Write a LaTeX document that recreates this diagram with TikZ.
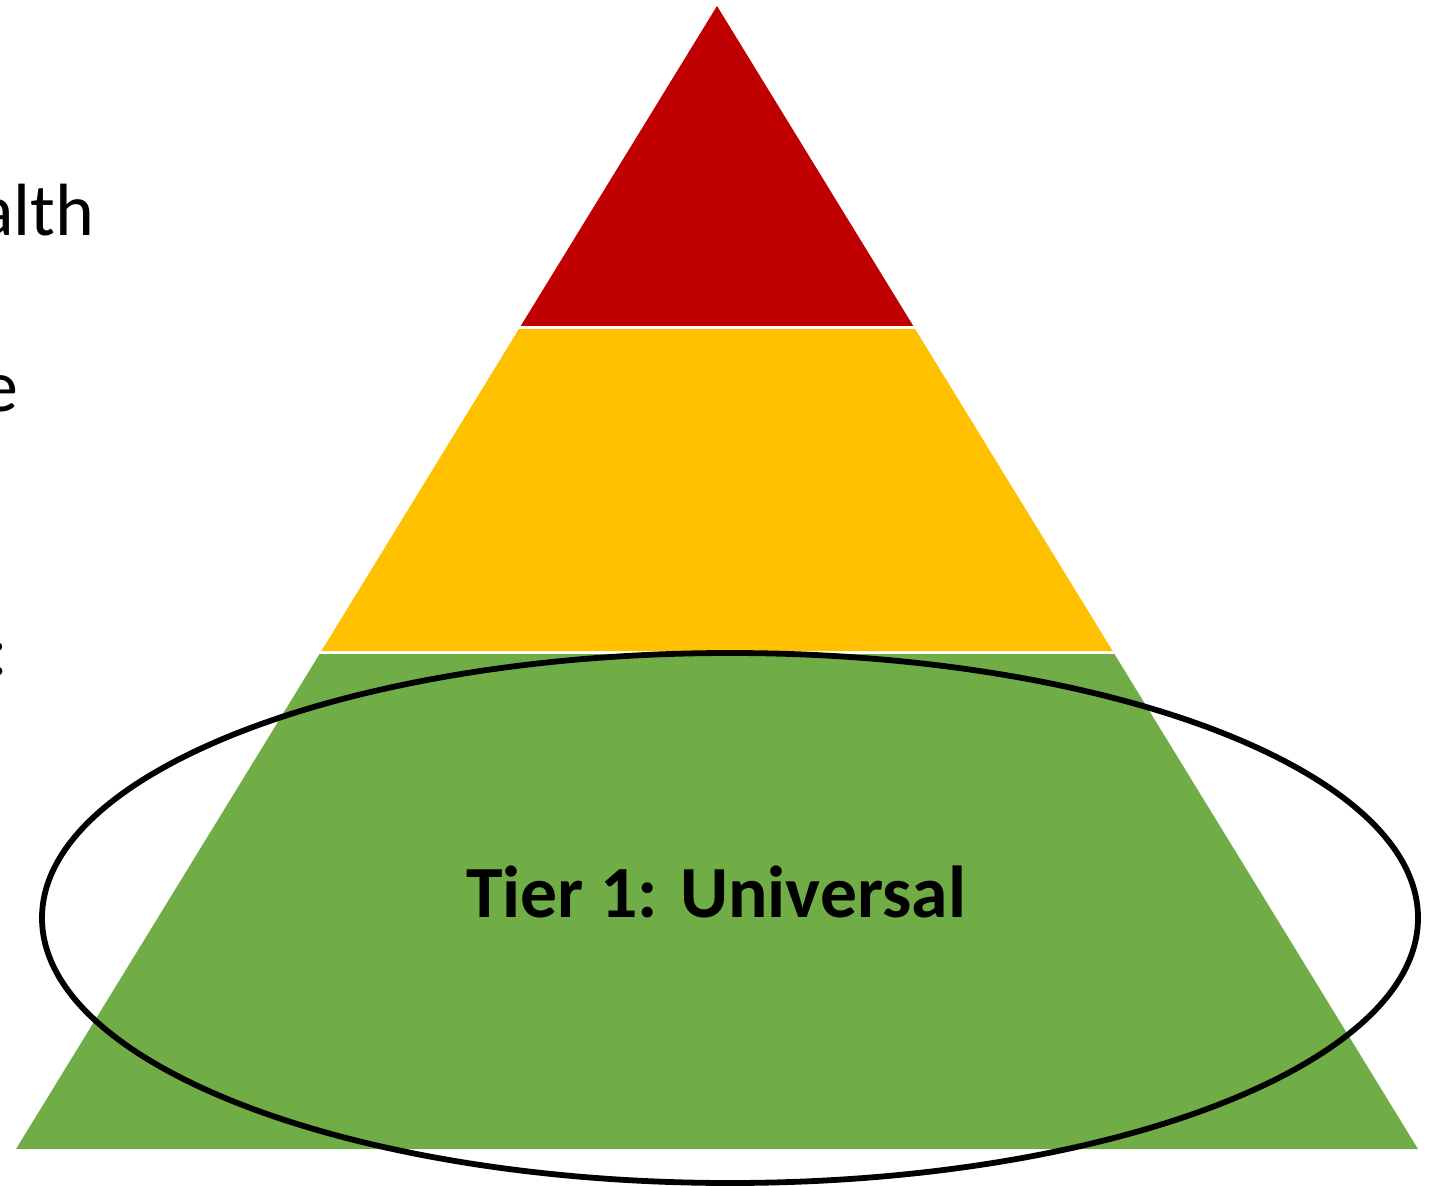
\documentclass[tikz,border=0pt]{standalone}
\usepackage{fontspec}
\setmainfont{Carlito}
\definecolor{tierred}{HTML}{C00000}
\definecolor{tieryellow}{HTML}{FFC000}
\definecolor{tiergreen}{HTML}{70AD47}
\begin{document}
\begin{tikzpicture}[x=0.5pt,y=-0.5pt,
  band/.style={draw=none},
  sidetext/.style={font=\fontsize{37pt}{44pt}\selectfont, inner sep=0pt, anchor=base east},
  tierlabel/.style={font=\fontsize{36.8pt}{44pt}\selectfont\bfseries, inner sep=0pt, anchor=base}]
\useasboundingbox (0,0) rectangle (1443,1186);
\clip (0,0) rectangle (1443,1186);
% pyramid bands
\fill[tierred,band] (717,6) -- (913.3,326) -- (520.7,326) -- cycle;
\fill[tieryellow,band] (518.9,329) -- (915.1,329) -- (1112.6,651) -- (321.4,651) -- cycle;
\fill[tiergreen,band] (319.6,654) -- (1114.4,654) -- (1418,1149) -- (16,1149) -- cycle;
% label
\node[tierlabel] (t1) at (716,917) {Tier 1: Universal};
% ellipse
\draw[line width=2.9pt] (730,918) ellipse [x radius=344pt, y radius=132.5pt];
% cropped side texts
\node[sidetext] (s1) at (95,236) {alth};
\node[sidetext] (s2) at (19,412) {e};
\node[sidetext] (s3) at (9,675) {:};
\end{tikzpicture}
\end{document}
